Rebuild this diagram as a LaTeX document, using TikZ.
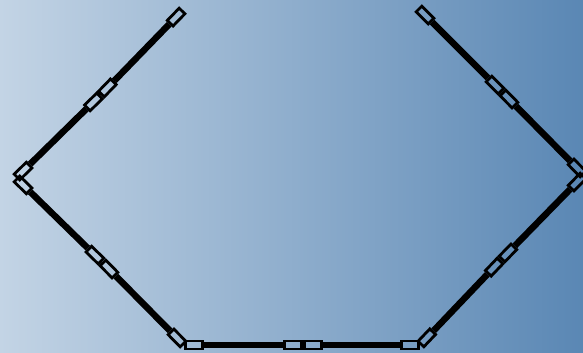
\documentclass[tikz,border=0pt]{standalone}
\usetikzlibrary{calc}
\definecolor{bgL}{HTML}{C3D4E5}
\definecolor{bgR}{HTML}{5A87B4}
\tikzset{
  railcap/.style={draw=black, line width=2.8pt, rectangle, minimum width=17pt, minimum height=8pt, inner sep=0pt, sloped, allow upside down},
  railline/.style={draw=black, line width=6.5pt},
}
\newcommand{\railseg}[3]{%
  \path (#1) -- (#2)
    node[railcap, pos=0, anchor=west] (#3a) {}
    node[railcap, pos=1, anchor=east] (#3b) {};
  \draw[railline] (#3a) -- (#3b);
}
\begin{document}
\begin{tikzpicture}[x=1pt,y=-1pt]
\shade[left color=bgL, right color=bgR] (0,0) rectangle (583,353);
\useasboundingbox (0,0) rectangle (583,353);
\coordinate (p0) at (183,10);
\coordinate (m1) at (100.5,95);
\coordinate (v1) at (16,178);
\coordinate (m2) at (102,262);
\coordinate (b1) at (184,345);
\coordinate (m3) at (303,345);
\coordinate (b2) at (420,345);
\coordinate (m4) at (501,260);
\coordinate (v2) at (584,175);
\coordinate (m5) at (502,92);
\coordinate (p1) at (418,8);
\railseg{p0}{m1}{s1}
\railseg{m1}{v1}{s2}
\railseg{v1}{m2}{s3}
\railseg{m2}{b1}{s4}
\railseg{b1}{m3}{s5}
\railseg{m3}{b2}{s6}
\railseg{b2}{m4}{s7}
\railseg{m4}{v2}{s8}
\railseg{v2}{m5}{s9}
\railseg{m5}{p1}{s10}
\end{tikzpicture}
\end{document}
